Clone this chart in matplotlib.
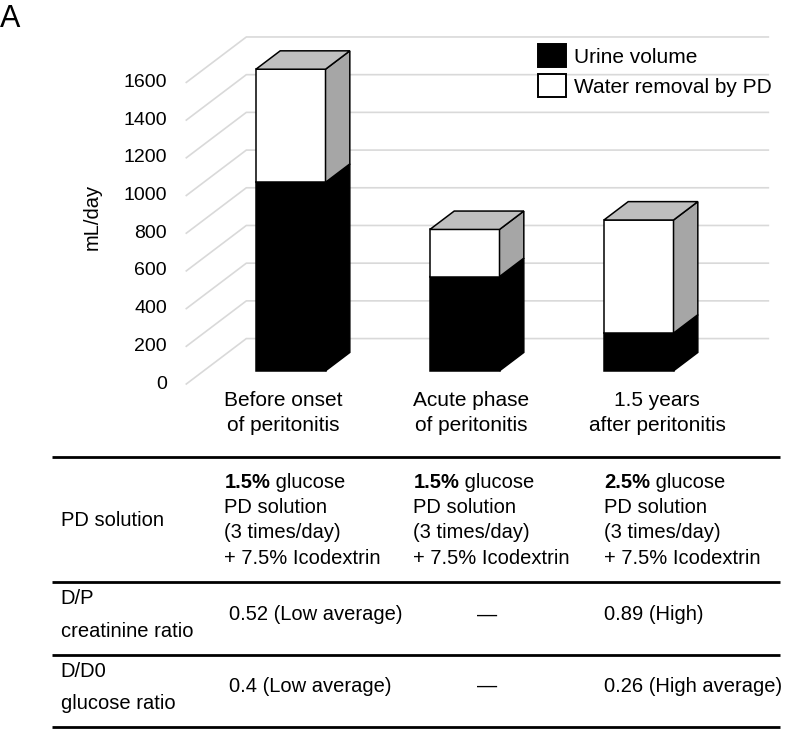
import matplotlib
matplotlib.use('Agg')
import matplotlib.pyplot as plt
from matplotlib.patches import Polygon, Patch

plt.rcParams['font.family'] = ['Liberation Sans', 'DejaVu Sans']

# --- data -------------------------------------------------------------
categories = [("Before onset", "of peritonitis"),
              ("Acute phase", "of peritonitis"),
              ("1.5 years", "after peritonitis")]
urine_volume = [1000, 500, 200]
water_removal = [600, 250, 600]
y_ticks = [0, 200, 400, 600, 800, 1000, 1200, 1400, 1600]
series_names = ["Urine volume", "Water removal by PD"]

glucose_pct = ["1.5%", "1.5%", "2.5%"]
pd_rest = ["PD solution", "(3 times/day)", "+ 7.5% Icodextrin"]
dp_ratio = ["0.52 (Low average)", "\u2014", "0.89 (High)"]
dd0_ratio = ["0.4 (Low average)", "\u2014", "0.26 (High average)"]
row_labels = [["PD solution"], ["D/P", "creatinine ratio"], ["D/D0", "glucose ratio"]]

# --- figure -----------------------------------------------------------
W, H = 787, 729
fig = plt.figure(figsize=(W / 100, H / 100), dpi=100)


def fx(px):
    return px / W


def fy(py):
    return 1 - py / H


# pixel axes for the table and free text
tab = fig.add_axes([0, 0, 1, 1])
tab.set_xlim(0, W)
tab.set_ylim(H, 0)
tab.axis('off')
tab.patch.set_visible(False)

# chart axes = front plane of the 3D box
ax = fig.add_axes([fx(186.3), fy(384), fx(708.3) - fx(186.3), fy(44.7) - fy(384)])
ax.set_xlim(-0.5, 2.5)
ax.set_ylim(0, 1800)
ax.axis('off')
ax.patch.set_visible(False)

DX, DY = 0.345, 241.0      # back wall offset in data units
D1, D2 = 0.29, 0.695       # bar front / back depth
BW = 0.40
GRID = '#d9d9d9'


def proj(x, y, d):
    return (x + d * DX, y + d * DY)


for v in y_ticks:
    ax.plot([-0.5, -0.5 + DX, 2.5 + DX], [v, v + DY, v + DY], color=GRID,
            lw=1.2, clip_on=False, zorder=1)
    ax.annotate(f'{v}', xy=(-0.5, v), xytext=(-14, 0), textcoords='offset points',
                ha='right', va='center', fontsize=14, annotation_clip=False)


def box(i, y0, y1, front, side, top):
    xl, xr = i - BW / 2, i + BW / 2
    faces = [
        ([proj(xl, y0, D1), proj(xr, y0, D1), proj(xr, y1, D1), proj(xl, y1, D1)], front),
        ([proj(xr, y0, D1), proj(xr, y0, D2), proj(xr, y1, D2), proj(xr, y1, D1)], side),
        ([proj(xl, y1, D1), proj(xr, y1, D1), proj(xr, y1, D2), proj(xl, y1, D2)], top),
    ]
    for pts, c in faces:
        ax.add_patch(Polygon(pts, closed=True, facecolor=c, edgecolor='black',
                             lw=1.1, joinstyle='miter', clip_on=False, zorder=3))


for i in range(len(categories)):
    box(i, 0, urine_volume[i], 'black', 'black', 'black')
    box(i, urine_volume[i], urine_volume[i] + water_removal[i], 'white', '#a6a6a6', '#bfbfbf')

handles = [Patch(facecolor='black', edgecolor='black', lw=1.4),
           Patch(facecolor='white', edgecolor='black', lw=1.4)]
fig.legend(handles, series_names, loc='upper left', bbox_to_anchor=(fx(538.3), fy(44.3)),
           frameon=False, fontsize=15, handlelength=1.33, handleheight=1.28,
           handletextpad=0.4, labelspacing=0.365, borderpad=0, borderaxespad=0)

# labels
tab.text(0, 4, 'A', fontsize=22, ha='left', va='top')
tab.text(91.7, 216.7, 'mL/day', fontsize=14.5, rotation=90, ha='center', va='center')
label_x = [283, 471, 657]
for (l1, l2), x in zip(categories, label_x):
    tab.text(x, 400.7, l1, fontsize=15, ha='center', va='center')
    tab.text(x, 425, l2, fontsize=15, ha='center', va='center')

# table
FS = 14.5
for y in [456.7, 581.7, 655, 726.7]:
    tab.plot([51.7, 780], [y, y], color='black', lw=2, solid_capstyle='butt')

tab.text(60.7, 520, row_labels[0][0], fontsize=FS, va='center')
tab.text(60.7, 598.3, row_labels[1][0], fontsize=FS, va='center')
tab.text(60.7, 631.7, row_labels[1][1], fontsize=FS, va='center')
tab.text(60.7, 671.7, row_labels[2][0], fontsize=FS, va='center')
tab.text(60.7, 703.3, row_labels[2][1], fontsize=FS, va='center')

pd_x = [224.3, 413.3, 604.3]
for pct, x in zip(glucose_pct, pd_x):
    t = tab.text(x, 482.7, pct, fontsize=FS, fontweight='bold', va='center')
    tab.annotate(' glucose', xy=(1, 0.5), xycoords=t, fontsize=FS, va='center', ha='left')
    for k, line in enumerate(pd_rest):
        tab.text(x, 507.7 + 25.2 * k, line, fontsize=FS, va='center')

val_x = [229, 487.3, 604]
val_ha = ['left', 'center', 'left']
for vals, y in [(dp_ratio, 615), (dd0_ratio, 686.7)]:
    for s, x, ha in zip(vals, val_x, val_ha):
        tab.text(x, y, s, fontsize=FS, ha=ha, va='center')

fig.savefig('out.png', dpi=100)
